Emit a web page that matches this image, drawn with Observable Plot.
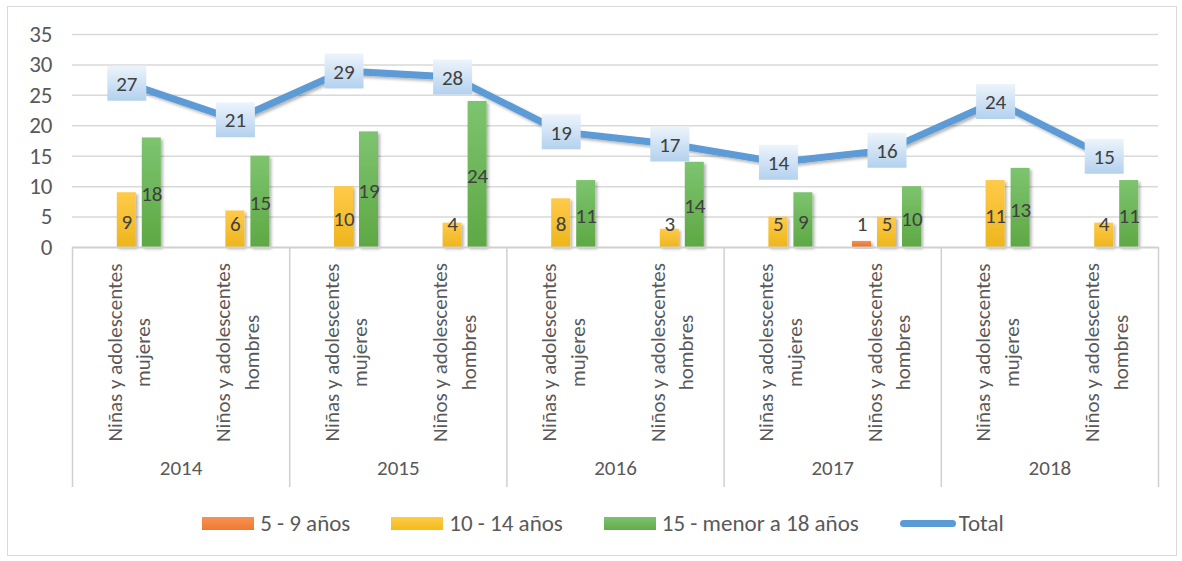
<!DOCTYPE html>
<html>
<head>
<meta charset="utf-8">
<script src="https://cdn.jsdelivr.net/npm/d3@7"></script>
<script src="https://cdn.jsdelivr.net/npm/@observablehq/plot@0.6"></script>
<style>
  body { margin: 0; background: #fff; }
  #wrap { position: relative; width: 1182px; height: 561px; overflow: hidden; font-family: Carlito, Lato, sans-serif; }
  #border { position: absolute; left: 7px; top: 6px; width: 1170px; height: 550px; border: 1.5px solid #D9D9D9; box-sizing: border-box; pointer-events: none; }
  #chart { position: absolute; left: 0; top: 0; }
  #legend { position: absolute; top: 510px; left: 0; width: 1206px; height: 26px; display: flex; justify-content: center; align-items: center; gap: 41px; color: #595959; font-size: 23px; }
  .item { display: flex; align-items: center; white-space: nowrap; }
  .sw { width: 52px; height: 13px; margin-right: 6px; }
  .ln { width: 56px; height: 7px; border-radius: 4px; margin-right: 3px; }
</style>
</head>
<body>
<div id="wrap">
  <div id="chart"></div>
  <div id="border"></div>
  <div id="legend"></div>
</div>
<script>
// ---- data ----
const years = ["2014", "2015", "2016", "2017", "2018"];
const groups = ["Niñas y adolescentes\nmujeres", "Niños y adolescentes\nhombres"];
const seriesNames = ["5 - 9 años", "10 - 14 años", "15 - menor a 18 años", "Total"];
const age5to9 = [0, 0, 0, 0, 0, 0, 0, 1, 0, 0];
const age10to14 = [9, 6, 10, 4, 8, 3, 5, 5, 11, 4];
const age15to18 = [18, 15, 19, 24, 11, 14, 9, 10, 13, 11];
const totals = [27, 21, 29, 28, 19, 17, 14, 16, 24, 15];
const yTicks = [0, 5, 10, 15, 20, 25, 30, 35];

// ---- derived tables ----
const categories = years.flatMap(y => groups.map(g => ({key: y + "|" + g, year: y, group: g})));
const keys = categories.map(c => c.key);
const seriesValues = [age5to9, age10to14, age15to18];
const colors = {
  fills: ["url(#gOrange)", "url(#gYellow)", "url(#gGreen)"],
  legend: ["linear-gradient(#F79152,#EE7A30)", "linear-gradient(#FFCB45,#F2BC1C)", "linear-gradient(#7CC26D,#63AC4A)"],
  line: "#5B9BD5"
};
const bars = seriesValues.map((vals, s) => vals.map((v, i) => ({key: keys[i], value: v, s})));

const marginLeft = 72, marginRight = 24, marginTop = 34, width = 1182, height = 500;
const y0px = 247;
const marginBottom = height - y0px;
const bw = (width - marginLeft - marginRight) / keys.length;
const barW = 19, step = 25;
const inset = (bw - barW) / 2;
const labelY = d => Math.max(d.value / 2 - 0.3, 3.9);

const boxSymbol = { draw(ctx) { ctx.rect(-19.5, -17.5, 39, 35); } };

const marks = [
  Plot.gridY(yTicks.filter(t => t > 0), {stroke: "#D9D9D9", strokeOpacity: 1, strokeWidth: 1.5}),
  Plot.axisY({ticks: yTicks, tickSize: 0, tickPadding: 20, fontSize: 23, fill: "#595959", label: null}),
];
bars.forEach((data, s) => {
  marks.push(Plot.barY(data, {x: "key", y: "value", fill: colors.fills[s], insetLeft: inset, insetRight: inset, dx: (s - 1) * step}));
});
marks.push(Plot.ruleY([0], {stroke: "#D0D0D0", strokeWidth: 2}));
bars.forEach((data, s) => {
  marks.push(Plot.text(data.filter(d => d.value > 0), {x: "key", y: labelY, text: d => String(d.value), dx: (s - 1) * step, fontSize: 21, fill: "#404040"}));
});
marks.push(
  Plot.line(totals.map((v, i) => ({key: keys[i], v})), {x: "key", y: "v", stroke: colors.line, strokeWidth: 7, strokeLinejoin: "round"}),
  Plot.dot(totals.map((v, i) => ({key: keys[i], v})), {x: "key", y: "v", symbol: boxSymbol, r: 10, fill: "url(#gBox)", stroke: "none"}),
  Plot.text(totals.map((v, i) => ({key: keys[i], v})), {x: "key", y: "v", text: d => String(d.v), fontSize: 21, fill: "#404040", dy: 1}),
  // category axis
  Plot.text(categories, {x: "key", text: "group", frameAnchor: "bottom", dy: 105, rotate: -90, textAnchor: "middle", lineAnchor: "middle", lineHeight: 1.36, fontSize: 21, fontWeight: 300, fill: "#595959"}),
  Plot.text(categories.filter((c, i) => i % 2 === 0), {x: "key", text: "year", frameAnchor: "bottom", dy: 227, dx: bw / 2, fontSize: 21, fontWeight: 300, fill: "#595959"}),
  Plot.ruleX(categories.filter((c, i) => i % 2 === 0), {x: "key", dx: -bw / 2, stroke: "#D0D0D0", strokeWidth: 1.5, insetTop: y0px - marginTop, insetBottom: -240}),
  Plot.ruleX(categories.slice(-1), {x: "key", dx: bw / 2, stroke: "#D0D0D0", strokeWidth: 1.5, insetTop: y0px - marginTop, insetBottom: -240})
);

const svg = Plot.plot({
  width, height, marginLeft, marginRight, marginTop, marginBottom,
  style: {fontFamily: "Carlito, Lato, sans-serif", background: "transparent"},
  x: {type: "band", domain: keys, padding: 0, round: false, axis: null},
  y: {domain: [0, 35], axis: null},
  marks
});

// gradients & shadows
const defs = d3.select(svg).insert("defs", ":first-child");
function grad(id, c1, c2) {
  const g = defs.append("linearGradient").attr("id", id).attr("x1", 0).attr("y1", 0).attr("x2", 0).attr("y2", 1);
  g.append("stop").attr("offset", "0%").attr("stop-color", c1);
  g.append("stop").attr("offset", "100%").attr("stop-color", c2);
}
grad("gOrange", "#F79152", "#E8702A");
grad("gYellow", "#FFCA4A", "#EDB61C");
grad("gGreen", "#7DC46F", "#5EA844");
grad("gBox", "#EDF4FB", "#B3D1EE");
const f = defs.append("filter").attr("id", "shadow").attr("x", "-20%").attr("y", "-20%").attr("width", "150%").attr("height", "150%");
f.append("feDropShadow").attr("dx", 2).attr("dy", 2).attr("stdDeviation", 1.5).attr("flood-color", "#000").attr("flood-opacity", 0.3);
d3.select(svg).selectAll('g[aria-label="bar"], g[aria-label="line"]').attr("filter", "url(#shadow)");

document.getElementById("chart").appendChild(svg);

// legend
const legend = d3.select("#legend");
seriesNames.forEach((name, i) => {
  const it = legend.append("div").attr("class", "item");
  if (i < 3) it.append("div").attr("class", "sw").style("background", colors.legend[i]);
  else it.append("div").attr("class", "ln").style("background", colors.line);
  it.append("span").text(name);
});
</script>
</body>
</html>
